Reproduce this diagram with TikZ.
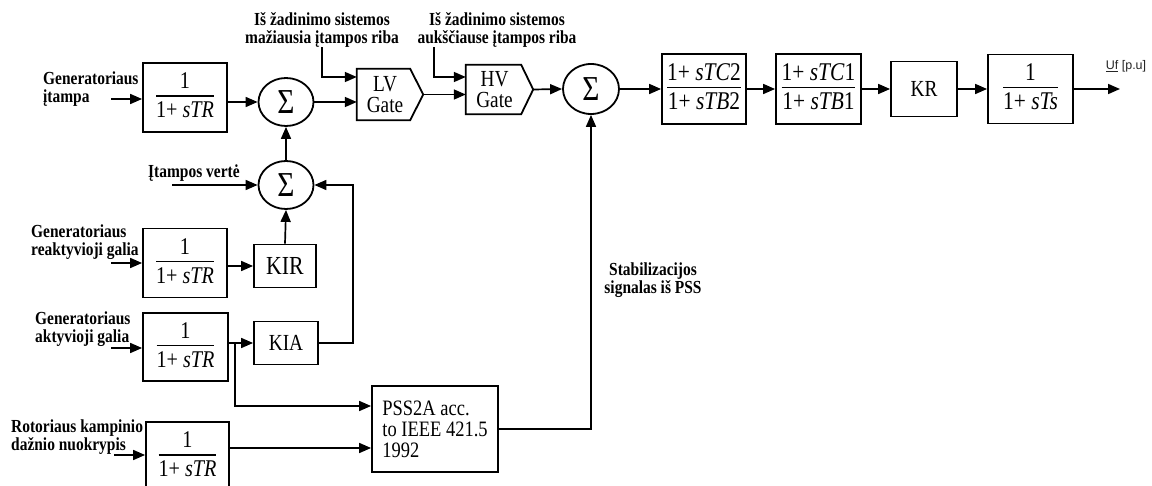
\documentclass[tikz,border=0pt]{standalone}
\usepackage{fontspec}
\setmainfont{Liberation Serif}[FakeStretch=0.84]
\newfontfamily\ufont{Liberation Sans}
\usetikzlibrary{arrows.meta,shapes.geometric}
\setlength\arrayrulewidth{1.4pt}
\newcommand\fr[2]{\begin{tabular}{@{}c@{}}\rule[-6pt]{0pt}{24pt}#1\\\hline\rule[-6pt]{0pt}{27pt}#2\end{tabular}}
\newcommand\sgm{{\fontsize{35}{35}\selectfont Σ}}
\newcommand\fsA{\fontsize{24}{22}\selectfont}
\newcommand\fsB{\fontsize{23}{22}\selectfont}
\newcommand\fsK{\fontsize{26}{22}\selectfont}
\newcommand\fsC{\fontsize{25.5}{22}\selectfont}
\newcommand\fsL{\bfseries\fontsize{18.4}{17.5}\selectfont}
\newcommand\fsP{\fontsize{22}{21}\selectfont}
\newcommand\fsG{\fontsize{23}{21.5}\selectfont}
\begin{document}
\begin{tikzpicture}[x=1pt,y=-1pt,
  blk/.style={draw, line width=1.8pt, inner sep=0pt},
  sumnode/.style={draw, ellipse, line width=1.8pt, minimum width=55pt, minimum height=48pt, inner sep=0pt},
  gate/.style={inner sep=0pt, align=center, font=\fsG},
  outl/.style={line width=1.8pt, line join=miter},
  arr/.style={line width=1.7pt, -{Triangle[length=12pt,width=10pt]}},
  lbl/.style={font=\fsL, align=left, inner sep=0pt, anchor=west},
  clbl/.style={font=\fsL, align=center, inner sep=0pt}]
\useasboundingbox (0,0) rectangle (1152,486);
\fill[white] (0,0) rectangle (1152,486);

% labels
\node[lbl] (lab1) at (43,89) {Generatoriaus\\įtampa};
\node[lbl] (lab2) at (31,242) {Generatoriaus\\reaktyvioji galia};
\node[lbl] (lab3) at (35,329) {Generatoriaus\\aktyvioji galia};
\node[lbl] (lab4) at (11,437) {Rotoriaus kampinio\\dažnio nuokrypis};
\node[lbl] (lab5) at (148,173) {Įtampos vertė};
\node[clbl] (toplv) at (322,30) {Iš žadinimo sistemos\\mažiausia įtampos riba};
\node[clbl] (tophv) at (497,30) {Iš žadinimo sistemos\\aukščiause įtampos riba};
\node[clbl] (stab) at (653,280) {Stabilizacijos\\signalas iš PSS};
\node[font=\ufont\fontsize{12.5}{14}\selectfont, text=black!85, inner sep=0pt] (uf) at (1126,66) {\underline{Uf} [p.u]};

% blocks
\node[blk, minimum width=84pt, minimum height=69pt, font=\fsA] (tr1) at (185,97.5) {\fr{1}{1+ \textit{sTR}}};
\node[blk, minimum width=84pt, minimum height=69pt, font=\fsA] (tr2) at (185,263) {\fr{1}{1+ \textit{sTR}}};
\node[blk, minimum width=85pt, minimum height=68pt, font=\fsA] (tr3) at (185.5,347) {\fr{1}{1+ \textit{sTR}}};
\node[blk, minimum width=83pt, minimum height=69pt, font=\fsA] (tr4) at (187.5,456.5) {\fr{1}{1+ \textit{sTR}}};
\node[blk, minimum width=62pt, minimum height=43pt, font=\fsK] (kir) at (285,266) {KIR};
\node[blk, minimum width=64pt, minimum height=43pt, font=\fsB] (kia) at (286,343) {KIA};
\node[blk, minimum width=126pt, minimum height=86pt, font=\fsP, align=left] (pss) at (435,429) {PSS2A acc.\\to IEEE 421.5\\1992};
\node[sumnode] (s1) at (286,102) {\sgm};
\node[sumnode] (s2) at (286,185) {\sgm};
\node[sumnode, minimum width=56pt, minimum height=50pt] (s3) at (591,89) {\sgm};
\node[gate, minimum width=66pt, minimum height=51pt] (lv) at (390,94.5) {\hspace*{-10pt}LV\\\hspace*{-10pt}Gate};
\node[gate, minimum width=67pt, minimum height=49pt] (hv) at (499.5,89.5) {\hspace*{-10pt}HV\\\hspace*{-10pt}Gate};
\draw[outl] (lv.north west) -- ([xshift=-13pt]lv.north east) -- (lv.east) -- ([xshift=-13pt]lv.south east) -- (lv.south west) -- cycle;
\draw[outl] (hv.north west) -- ([xshift=-12pt]hv.north east) -- (hv.east) -- ([xshift=-12pt]hv.south east) -- (hv.south west) -- cycle;
\node[blk, minimum width=84pt, minimum height=70pt, font=\fsC] (tc2) at (704,89) {\fr{1+ \textit{sTC}2}{1+ \textit{sTB}2}};
\node[blk, minimum width=85pt, minimum height=70pt, font=\fsC] (tc1) at (818.5,89) {\fr{1+ \textit{sTC}1}{1+ \textit{sTB}1}};
\node[blk, minimum width=66pt, minimum height=55pt, font=\fsB] (kr) at (924,89) {KR};
\node[blk, minimum width=85pt, minimum height=69pt, font=\fsC] (ts) at (1030.5,89) {\fr{1}{1+ \textit{sTs}}};

% free ends
\coordinate (in1) at (111,99);
\coordinate (in2) at (111,263);
\coordinate (in3) at (111,348);
\coordinate (in4) at (114,455);
\coordinate (in5) at (172,185);
\coordinate (br) at (235,343);
\coordinate (fb) at (353,343);
\coordinate (out) at (1120,89);

% connectors
\draw[arr] (in1) -- (in1 -| tr1.west);
\draw[arr] (in2) -- (in2 -| tr2.west);
\draw[arr] (in3) -- (in3 -| tr3.west);
\draw[arr] (in4) -- (in4 -| tr4.west);
\draw[arr] (in5) -- (s2.west);
\draw[arr] (tr1.east |- s1.west) -- (s1.west);
\draw[arr] (s2.north) -- (s1.south);
\draw[arr] (kir.north) -- (s2.south);
\draw[arr] (tr2.east |- kir.west) -- (kir.west);
\draw[arr] (tr3.east |- kia.west) -- (kia.west);
\draw[arr] (kia.east) -- (fb) |- (s2.east);
\draw[arr] (br) |- (pss.west |- 0,406);
\draw[arr] (tr4.east |- 0,448) -- (pss.west |- 0,448);
\draw[arr] (pss.east) -| (s3.south);
\draw[arr] (s1.east) -- (s1.east -| lv.west);
\draw[arr] (toplv.south) |- (lv.west |- 0,77);
\draw[arr] (tophv.south -| 434,0) |- (hv.west |- 0,77);
\draw[arr] (lv.east) -- (lv.east -| hv.west);
\draw[arr] (hv.east) -- (s3.west);
\draw[arr] (s3.east) -- (tc2.west);
\draw[arr] (tc2.east) -- (tc1.west);
\draw[arr] (tc1.east) -- (kr.west);
\draw[arr] (kr.east) -- (ts.west);
\draw[arr] (ts.east) -- (out);
\end{tikzpicture}
\end{document}
